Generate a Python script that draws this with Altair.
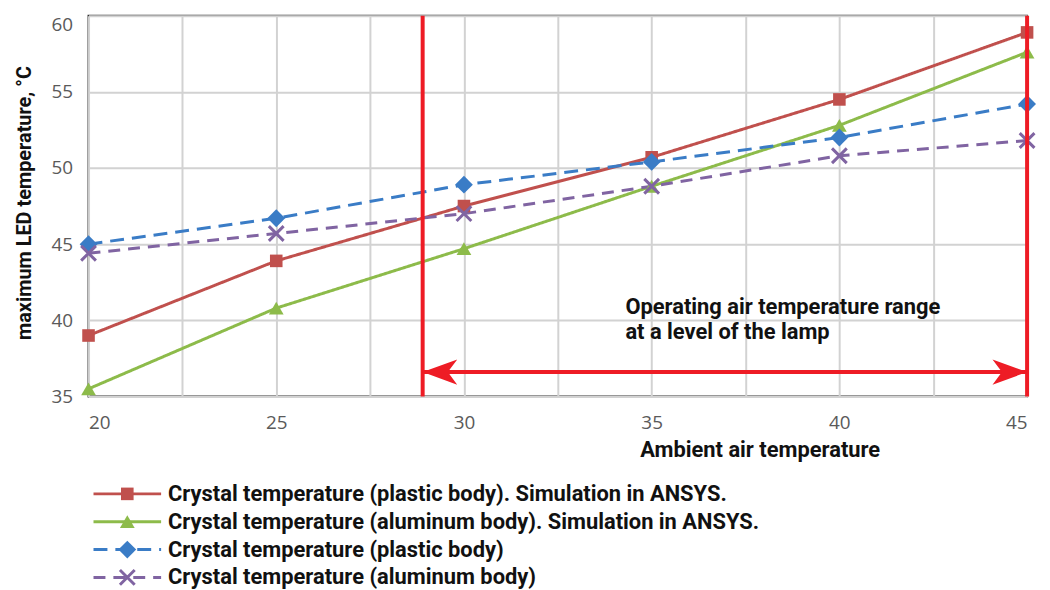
import altair as alt
import pandas as pd

# ---------------- data ----------------
ambient = [20, 25, 30, 35, 40, 45]
plastic_sim = [39.0, 43.9, 47.5, 50.7, 54.5, 58.9]
aluminum_sim = [35.5, 40.8, 44.7, 48.8, 52.8, 57.6]
plastic_meas = [45.0, 46.7, 48.9, 50.4, 52.0, 54.2]
aluminum_meas = [44.4, 45.7, 47.0, 48.8, 50.8, 51.8]

series_names = [
    "Crystal temperature (plastic body). Simulation in ANSYS.",
    "Crystal temperature (aluminum body). Simulation in ANSYS.",
    "Crystal temperature (plastic body)",
    "Crystal temperature (aluminum body)",
]
series_values = [plastic_sim, aluminum_sim, plastic_meas, aluminum_meas]

x_ticks = [20, 22.5, 25, 27.5, 30, 32.5, 35, 37.5, 40, 42.5, 45]
y_ticks = [35, 40, 45, 50, 55, 60]

range_bounds = [28.9, 45]          # operating range (ambient air temperature)
arrow_level = [36.6]               # level of the range arrow
note_pos = [34.3, 40.9]
note_text = "Operating air temperature range\nat a level of the lamp"

# ---------------- styles ----------------
series_colors = ["#C0504D", "#8DBB4A", "#3A7CC6", "#8064A2"]
series_dash = [[1, 0], [1, 0], [14, 8], [12, 8]]
series_width = [3, 3, 3.5, 3]
marker_shapes = ["square", "triangle-up", "diamond", "M-1,-1L1,1M-1,1L1,-1"]
marker_sizes = [160, 220, 320, 220]
marker_filled = [True, True, True, False]
red = "#EE1C25"

W, H = 944, 383

rows = []
for name, vals in zip(series_names, series_values):
    for xv, yv in zip(ambient, vals):
        rows.append({"ambient": xv, "temp": yv, "series": name})
df = pd.DataFrame(rows)

color_scale = alt.Scale(domain=series_names, range=series_colors)
dash_scale = alt.Scale(domain=series_names, range=series_dash)
width_scale = alt.Scale(domain=series_names, range=series_width)

tick_font = "Open Sans"
tick_color = "#5a5a5a"
title_font = "Roboto"
text_color = "#111111"
text_size = 22

x_enc = alt.X(
    "ambient:Q",
    scale=alt.Scale(domain=[20, 45], nice=False, zero=False),
    axis=alt.Axis(
        values=x_ticks,
        labelExpr="datum.value % 5 == 0 ? datum.label : ''",
        labelFlush=True,
        title="Ambient air temperature",
        titleX=675,
        titleFont=title_font,
        titleFontSize=text_size,
        titleFontWeight="bold",
        titleColor=text_color,
        titlePadding=7,
        labelFont=tick_font,
        labelFontSize=19,
        labelColor=tick_color,
        labelPadding=17,
        ticks=False,
        domain=False,
        grid=True,
        gridColor="#d2d2d2",
        gridWidth=2,
    ),
)
y_enc = alt.Y(
    "temp:Q",
    scale=alt.Scale(domain=[35, 60], nice=False, zero=False),
    axis=alt.Axis(
        values=y_ticks,
        title="maximum LED temperature, °C",
        titleY=188,
        titleFont=title_font,
        titleFontSize=20,
        titleFontWeight="bold",
        titleColor=text_color,
        titlePadding=17,
        labelFont=tick_font,
        labelFontSize=19,
        labelColor=tick_color,
        labelPadding=16,
        labelBaseline=alt.condition("datum.value == 60", alt.value("top"), alt.value("middle")),
        ticks=False,
        domain=False,
        grid=True,
        gridColor="#d2d2d2",
        gridWidth=2,
    ),
)

base = alt.Chart(df)

lines = base.mark_line().encode(
    x=x_enc,
    y=y_enc,
    color=alt.Color("series:N", scale=color_scale, legend=None),
    strokeDash=alt.StrokeDash("series:N", scale=dash_scale, legend=None),
    strokeWidth=alt.StrokeWidth("series:N", scale=width_scale, legend=None),
    detail="series:N",
)


def marker_layer(chart_base, i):
    kw = dict(shape=marker_shapes[i], size=marker_sizes[i], opacity=1,
              filled=marker_filled[i])
    if not marker_filled[i]:
        kw["strokeWidth"] = 3
    return chart_base.transform_filter(
        alt.FieldEqualPredicate(field="series", equal=series_names[i])
    ).mark_point(**kw)


point_layers = [
    marker_layer(base, i).encode(
        x="ambient:Q", y="temp:Q",
        color=alt.Color("series:N", scale=color_scale, legend=None),
    )
    for i in range(4)
]

bounds_df = pd.DataFrame({"ambient": range_bounds})
vlines = alt.Chart(bounds_df).mark_rule(color=red, strokeWidth=4).encode(
    x="ambient:Q", y=alt.value(0), y2=alt.value(H)
)

arrow_df = pd.DataFrame({"x1": [range_bounds[0]], "x2": [range_bounds[1]], "lvl": arrow_level})
arrow_line = alt.Chart(arrow_df).mark_rule(color=red, strokeWidth=4).encode(
    x="x1:Q", x2="x2:Q", y="lvl:Q"
)
left_head = alt.Chart(arrow_df).mark_point(
    shape="M0,0L2.2,-0.8L1.6,0L2.2,0.8Z", filled=True, color=red, opacity=1, size=1000
).encode(x="x1:Q", y="lvl:Q")
right_head = alt.Chart(arrow_df).mark_point(
    shape="M0,0L-2.2,-0.8L-1.6,0L-2.2,0.8Z", filled=True, color=red, opacity=1, size=1000
).encode(x="x2:Q", y="lvl:Q")

note_df = pd.DataFrame({"x": [note_pos[0]], "y": [note_pos[1]], "t": [note_text]})
note = alt.Chart(note_df).mark_text(
    align="left", baseline="middle", lineBreak="\n", lineHeight=26,
    font=title_font, fontSize=text_size, fontWeight="bold", color=text_color,
).encode(x="x:Q", y="y:Q", text="t:N")

main = alt.layer(
    lines, *point_layers, vlines, arrow_line, left_head, right_head, note
).properties(
    width=W, height=H,
    view=alt.ViewBackground(stroke="#333333", strokeWidth=2),
)

# ---------------- legend (drawn as its own small chart) ----------------
leg_df = pd.DataFrame({"series": series_names})
leg_y = alt.Y("series:N", sort=series_names, axis=None,
              scale=alt.Scale(domain=series_names))
leg_color = alt.Color("series:N", scale=color_scale, legend=None)
leg_base = alt.Chart(leg_df)

leg_lines = leg_base.mark_rule().encode(
    x=alt.value(5), x2=alt.value(73), y=leg_y, color=leg_color,
    strokeDash=alt.StrokeDash("series:N", scale=dash_scale, legend=None),
    strokeWidth=alt.StrokeWidth("series:N", scale=width_scale, legend=None),
)
leg_points = [
    marker_layer(leg_base, i).encode(x=alt.value(39), y=leg_y, color=leg_color)
    for i in range(4)
]
leg_text = leg_base.mark_text(
    align="left", baseline="middle", font=title_font, fontSize=text_size,
    fontWeight="bold", color=text_color,
).encode(x=alt.value(80), y=leg_y, text="series:N")

legend = alt.layer(leg_lines, *leg_points, leg_text).properties(
    width=760, height=112,
    view=alt.ViewBackground(strokeWidth=0, stroke="transparent"),
)

chart = alt.vconcat(main, legend, spacing=19).properties(
    padding={"left": 5, "top": 3, "right": 0, "bottom": 0}
).configure_view(strokeWidth=0)

chart.save("out.html", embed_options={"renderer": "svg", "actions": False})
